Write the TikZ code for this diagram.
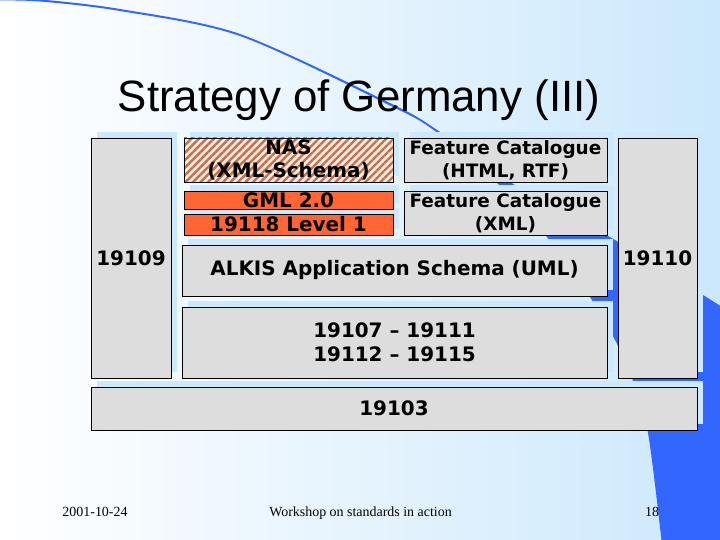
\documentclass[tikz,border=0pt]{standalone}
\usepackage{fontspec}
\newfontfamily\titlefont{Liberation Sans}
\newfontfamily\boxfont{DejaVu Sans}
\newfontfamily\footfont{Liberation Serif}
\usetikzlibrary{positioning,shadows,patterns.meta}
\definecolor{slideblue}{RGB}{51,102,255}
\definecolor{paleblue}{RGB}{204,232,252}
\definecolor{boxgray}{RGB}{221,221,221}
\definecolor{gmlorange}{RGB}{255,102,51}
\definecolor{hatchbrown}{RGB}{196,112,80}
\definecolor{hatchpeach}{RGB}{255,236,222}
\tikzstyle{layer} = [rectangle, draw=black, line width=0.8pt, fill=boxgray, inner sep=0pt, outer sep=0pt, drop shadow={shadow xshift=6bp, shadow yshift=6bp, fill=paleblue, opacity=1}]
\tikzstyle{hatched} = [preaction={fill=hatchpeach}, pattern={Lines[angle=45,distance=5.3bp,line width=2.4bp]}, pattern color=hatchbrown]
\tikzstyle{layertext} = [font=\boxfont\bfseries\fontsize{20}{23}\selectfont, align=center, inner sep=0pt]
\tikzstyle{foot} = [font=\footfont\fontsize{14}{16}\selectfont, anchor=base, inner sep=0pt]

\begin{document}
\begin{tikzpicture}[x=1bp, y=-1bp]
\useasboundingbox (0,0) rectangle (720,540);
\clip (0,0) rectangle (720,540);
% Slide background and blue swoosh
\shade[left color=white, right color=paleblue] (0,0) rectangle (720,540);
\fill[slideblue] plot[smooth] coordinates {(-5,-1.5) (40,-0.5) (120,9) (240,34) (390,103) (435,128.5) (510,182) (615,240) (703,295) (730,312)}
  -- (730,545) -- plot[smooth] coordinates {(662,545) (648,433) (632,378) (615,340) (590,297) (547,237) (497,183) (435,131) (390,105.5) (240,36) (120,11) (40,1.5) (-5,0.5)} -- cycle;

% Title
\node[font=\titlefont\fontsize{44}{52}\selectfont, anchor=base] (title) at (359,112) {Strategy of Germany (III)};

% Left and right columns
\node[layer, anchor=north west, minimum width=80bp, minimum height=240bp] (iso19109) at (91,138) {};
\node[layer, anchor=north west, minimum width=79bp, minimum height=240bp] (iso19110) at (618,138) {};

% Encoding stack
\node[layer, fill=gmlorange, anchor=north west, minimum width=209bp, minimum height=21bp] (level1) at (184,214) {};
\node[layer, fill=gmlorange, minimum width=209bp, minimum height=18bp, above=5bp of level1] (gml) {};
\node[layer, hatched, minimum width=209bp, minimum height=44bp, above=9bp of gml] (nas) {};

% Feature catalogues
\node[layer, anchor=north west, minimum width=203bp, minimum height=44bp] (fchtml) at (404,138) {};
\node[layer, minimum width=203bp, minimum height=44bp, below=9bp of fchtml] (fcxml) {};

% Schema layers
\node[layer, anchor=north west, minimum width=425bp, minimum height=51bp] (alkis) at (182,245) {};
\node[layer, minimum width=425bp, minimum height=71bp, below=11bp of alkis] (core) {};
\node[layer, anchor=north west, minimum width=606bp, minimum height=43bp] (iso19103) at (91,387) {};

% Texts
\node[layertext] (iso19109text) at (iso19109) {19109};
\node[layertext] (iso19110text) at (iso19110) {19110};
\node[layertext] (nastext) at (nas) {NAS\\(XML-Schema)};
\node[layertext] (gmltext) at (gml) {GML 2.0};
\node[layertext] (level1text) at (level1) {19118 Level 1};
\node[layertext, font=\boxfont\bfseries\fontsize{18.5}{23}\selectfont] (fchtmltext) at (fchtml) {Feature Catalogue\\(HTML, RTF)};
\node[layertext, font=\boxfont\bfseries\fontsize{18.5}{23}\selectfont] (fcxmltext) at (fcxml) {Feature Catalogue\\(XML)};
\node[layertext] (alkistext) at (alkis) {ALKIS Application Schema (UML)};
\node[layertext, font=\boxfont\bfseries\fontsize{20}{24}\selectfont] (coretext) at (core) {19107 – 19111\\19112 – 19115};
\node[layertext] (iso19103text) at (iso19103) {19103};

% Footer
\node[foot] (date) at (95,516) {2001-10-24};
\node[foot] (event) at (360.5,516) {Workshop on standards in action};
\node[foot] (page) at (652,516) {18};
\end{tikzpicture}
\end{document}
